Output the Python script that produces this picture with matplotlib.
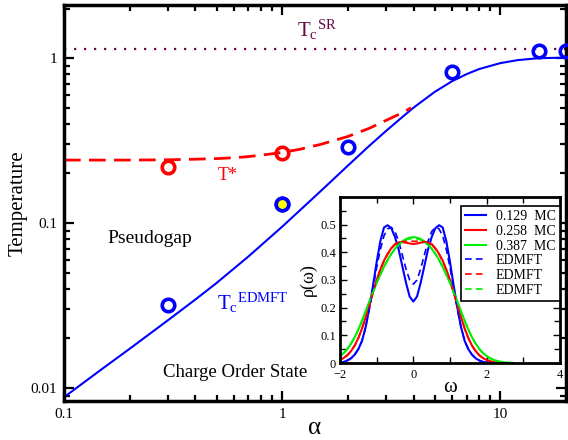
import numpy as np
import matplotlib
matplotlib.use("Agg")
import matplotlib.pyplot as plt
from matplotlib.ticker import MultipleLocator, NullFormatter, LogLocator

plt.rcParams['font.family'] = ['Liberation Serif', 'DejaVu Serif']
plt.rcParams['mathtext.fontset'] = 'custom'
plt.rcParams['mathtext.rm'] = 'Liberation Serif'
plt.rcParams['mathtext.it'] = 'Liberation Serif:italic'

# main panel data
alpha_tc = [0.1, 0.15, 0.2, 0.3, 0.4, 0.5, 0.7, 1.0, 1.3, 1.6, 2.0, 2.5, 3.0, 3.5,
            4.0, 5.0, 6.0, 7.0, 8.0, 10.0, 12.0, 15.0, 20.0]
tc_edmft = [0.0088, 0.0131, 0.0173, 0.0258, 0.0344, 0.0433, 0.0627, 0.0951, 0.131, 0.169, 0.223, 0.293, 0.363, 0.432,
            0.501, 0.624, 0.724, 0.80, 0.859, 0.933, 0.973, 1.0, 1.007]

alpha_ts = [0.1, 0.2, 0.3, 0.4, 0.5, 0.6, 0.7, 0.8, 1.0, 1.2, 1.5, 2.0, 2.5, 3.0, 3.5, 3.9]
t_star = [0.241, 0.241, 0.242, 0.244, 0.246, 0.249, 0.253, 0.258, 0.268, 0.28, 0.30, 0.335, 0.375, 0.42, 0.462, 0.50]

tc_sr = 1.13

alpha_mc = [0.3, 1.0, 2.0, 6.0, 15.0, 20.0]
tc_mc = [0.032, 0.13, 0.29, 0.82, 1.11, 1.11]
alpha_tsmc = [0.3, 1.0]
tstar_mc = [0.22, 0.265]

# inset data (half spectrum, w >= 0; spectra are symmetric)
w = [0.0, 0.1, 0.2, 0.3, 0.4, 0.5, 0.6, 0.7, 0.8, 0.9, 1.0, 1.1, 1.2, 1.3,
     1.4, 1.5, 1.6, 1.7, 1.8, 1.9, 2.0, 2.1, 2.2, 2.3, 2.4, 2.5, 2.6, 2.7]
rho_b_mc = [0.222, 0.24, 0.29, 0.35, 0.41, 0.455, 0.487, 0.498, 0.49, 0.44, 0.365, 0.28, 0.20, 0.13,
            0.08, 0.05, 0.03, 0.017, 0.009, 0.004, 0.002, 0.0, 0.0, 0.0, 0.0, 0.0, 0.0, 0.0]
rho_r_mc = [0.43, 0.432, 0.435, 0.437, 0.436, 0.43, 0.415, 0.395, 0.37, 0.338, 0.30, 0.255, 0.21, 0.165,
            0.125, 0.09, 0.063, 0.043, 0.028, 0.018, 0.011, 0.006, 0.003, 0.001, 0.0, 0.0, 0.0, 0.0]
rho_g_mc = [0.455, 0.453, 0.448, 0.44, 0.428, 0.413, 0.395, 0.373, 0.348, 0.32, 0.29, 0.257, 0.222, 0.187,
            0.153, 0.121, 0.093, 0.07, 0.051, 0.036, 0.025, 0.017, 0.011, 0.007, 0.004, 0.002, 0.001, 0.0]
rho_b_ed = [0.285, 0.30, 0.34, 0.39, 0.44, 0.475, 0.49, 0.485, 0.46, 0.41, 0.345, 0.27, 0.195, 0.13,
            0.08, 0.05, 0.03, 0.017, 0.009, 0.004, 0.002, 0.0, 0.0, 0.0, 0.0, 0.0, 0.0, 0.0]
rho_r_ed = [0.44, 0.44, 0.44, 0.439, 0.435, 0.428, 0.413, 0.393, 0.368, 0.336, 0.298, 0.254, 0.209, 0.164,
            0.124, 0.09, 0.063, 0.043, 0.028, 0.018, 0.011, 0.006, 0.003, 0.001, 0.0, 0.0, 0.0, 0.0]
rho_g_ed = [0.45, 0.449, 0.445, 0.438, 0.427, 0.412, 0.394, 0.372, 0.347, 0.319, 0.289, 0.256, 0.221, 0.186,
            0.152, 0.12, 0.092, 0.069, 0.05, 0.035, 0.024, 0.016, 0.01, 0.006, 0.003, 0.002, 0.001, 0.0]
labels = ["0.129  MC", "0.258  MC", "0.387  MC", "EDMFT", "EDMFT", "EDMFT"]


def full(v):
    v = np.asarray(v)
    return np.concatenate([v[:0:-1], v])


omega = np.concatenate([-np.asarray(w)[:0:-1], w])

maroon = '#670748'

fig = plt.figure(figsize=(5.68, 4.4), dpi=100)
ax = fig.add_axes([0.1127, 0.0886, 0.8838, 0.9000])

ax.plot(alpha_tc, tc_edmft, color='blue', lw=1.5)
ax.plot(alpha_ts, t_star, color='red', lw=2, dashes=(6, 3))
ax.axhline(tc_sr, color=maroon, lw=1.6, linestyle=(0, (1, 3.5)))
ax.plot(alpha_mc, tc_mc, 'o', ms=9, mfc='none', mec='blue', mew=2.6, clip_on=False, zorder=5)
ax.plot([1.0], [0.13], 'o', ms=9, mfc='yellow', mec='blue', mew=2.6, zorder=6)
ax.plot(alpha_tsmc, tstar_mc, 'o', ms=9, mfc='none', mec='red', mew=2.6, zorder=5)

ax.set_xscale('log')
ax.set_yscale('log')
ax.set_xlim(0.1, 20)
ax.set_ylim(0.00834, 2.1)
ax.set_xticks([0.1, 1, 10])
ax.set_xticklabels(['0.1', '1', '10'])
ax.set_yticks([0.01, 0.1, 1])
ax.set_yticklabels(['0.01', '0.1', '1'])
ax.xaxis.set_minor_locator(LogLocator(subs=np.arange(2, 10)))
ax.yaxis.set_minor_locator(LogLocator(subs=np.arange(2, 10)))
ax.xaxis.set_minor_formatter(NullFormatter())
ax.yaxis.set_minor_formatter(NullFormatter())
ax.tick_params(which='both', direction='in', top=True, right=True, labelsize=11, width=1.6)
ax.tick_params(which='major', length=7, pad=5)
ax.tick_params(which='minor', length=4)
for s in ax.spines.values():
    s.set_linewidth(2.5)

ax.set_xlabel('α', fontsize=18, labelpad=-3)
ax.set_ylabel('Temperature', fontsize=15, labelpad=2)

ax.text(0.56, 0.195, 'T*', color='red', fontsize=13, ha='center', va='center')
ax.text(0.247, 0.081, 'Pseudogap', fontsize=14, ha='center', va='center')
ax.text(0.61, 0.0125, 'Charge Order State', fontsize=13.5, ha='center', va='center')
ax.text(0.5, 0.0297, r'T$_\mathrm{c}$$^\mathrm{EDMFT}$', color='blue', fontsize=15, ha='left', va='baseline')
ax.text(1.17, 1.34, r'T$_\mathrm{c}$$^\mathrm{SR}$', color=maroon, fontsize=15, ha='left', va='baseline')

# inset
ins = fig.add_axes([0.5986, 0.175, 0.3873, 0.3773])
ins.plot(omega, full(rho_b_mc), color='blue', lw=1.5, label=labels[0])
ins.plot(omega, full(rho_r_mc), color='red', lw=1.5, label=labels[1])
ins.plot(omega, full(rho_g_mc), color='#00ee00', lw=1.5, label=labels[2])
ins.plot(omega, full(rho_b_ed), color='blue', lw=1.2, dashes=(4, 2.5), label=labels[3])
ins.plot(omega, full(rho_r_ed), color='red', lw=1.2, dashes=(4, 2.5), label=labels[4])
ins.plot(omega, full(rho_g_ed), color='#00ee00', lw=1.2, dashes=(4, 2.5), label=labels[5])
ins.set_xlim(-2, 4)
ins.set_ylim(0, 0.6)
ins.set_xticks([-2, 0, 2, 4])
ins.set_yticks([0, 0.1, 0.2, 0.3, 0.4, 0.5])
ins.set_yticklabels(['0', '0.1', '0.2', '0.3', '0.4', '0.5'])
ins.xaxis.set_minor_locator(MultipleLocator(1))
ins.yaxis.set_minor_locator(MultipleLocator(0.05))
ins.tick_params(which='both', direction='in', top=True, right=True, labelsize=9, width=1)
ins.tick_params(which='major', length=5)
ins.tick_params(which='minor', length=4)
ins.tick_params(axis='x', pad=4)
ins.tick_params(axis='y', pad=3)
for s in ins.spines.values():
    s.set_linewidth(2)
ins.set_xlabel('ω', fontsize=15, labelpad=-2)
ins.set_ylabel('ρ(ω)', fontsize=13, labelpad=2)
leg = ins.legend(loc='upper right', bbox_to_anchor=(1.0, 0.945), borderaxespad=0, fontsize=10,
                 labelspacing=0.12, handlelength=1.5, handletextpad=0.7, borderpad=0.3,
                 fancybox=False, framealpha=1, edgecolor='black')
leg.get_frame().set_linewidth(1.2)

fig.savefig('out.png', dpi=100)
